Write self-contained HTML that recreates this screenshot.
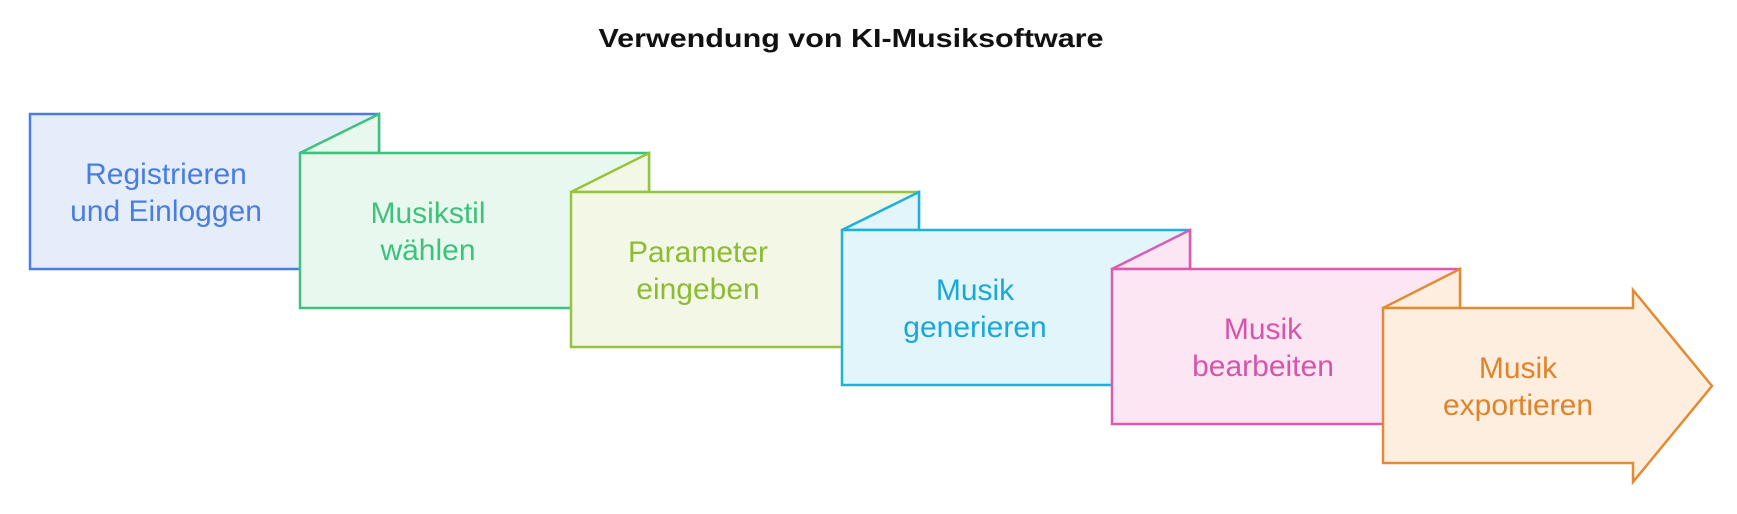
<!DOCTYPE html>
<html><head><meta charset="utf-8"><style>
html,body{margin:0;padding:0;background:#fff;}
svg{display:block;}
text{font-family:"Liberation Sans",sans-serif;}
</style></head><body>
<svg width="1737" height="514" viewBox="0 0 1737 514" xmlns="http://www.w3.org/2000/svg">
<text x="851" y="47" text-anchor="middle" font-size="26" font-weight="bold" fill="#111" textLength="505" lengthAdjust="spacingAndGlyphs">Verwendung von KI-Musiksoftware</text>
<g stroke-width="2.5" stroke-linejoin="miter">
<rect x="30" y="114" width="349" height="155" fill="#e5edfb" stroke="#4a7de0"/>
<polygon points="300,153 379,114 379,153" fill="#e9f8ef" stroke="#3cc27a"/>
<rect x="300" y="153" width="349" height="155" fill="#e9f8ef" stroke="#3cc27a"/>
<polygon points="571,192 649,153 649,192" fill="#f3f8e6" stroke="#97c43a"/>
<rect x="571" y="192" width="348" height="155" fill="#f3f8e6" stroke="#97c43a"/>
<polygon points="842,230 919,192 919,230" fill="#e2f5fb" stroke="#1fb0de"/>
<rect x="842" y="230" width="348" height="155" fill="#e2f5fb" stroke="#1fb0de"/>
<polygon points="1112,269 1190,230 1190,269" fill="#fce6f4" stroke="#dc5bb0"/>
<rect x="1112" y="269" width="348" height="155" fill="#fce6f4" stroke="#dc5bb0"/>
<polygon points="1383,308 1460,269 1460,308" fill="#fdeee0" stroke="#e38b33"/>
<polygon points="1383,308 1633,308 1633,290 1712,386 1633,482 1633,463 1383,463" fill="#fdeee0" stroke="#e38b33"/>
</g>
<g font-size="30" text-anchor="middle">
<text x="166" y="184" fill="#4a7de0">Registrieren</text>
<text x="166" y="221" fill="#4a7de0">und Einloggen</text>
<text x="428" y="223" fill="#3cc27a">Musikstil</text>
<text x="428" y="260" fill="#3cc27a">wählen</text>
<text x="698" y="262" fill="#8fbb33">Parameter</text>
<text x="698" y="299" fill="#8fbb33">eingeben</text>
<text x="975" y="300" fill="#1ca8d6">Musik</text>
<text x="975" y="337" fill="#1ca8d6">generieren</text>
<text x="1263" y="339" fill="#d655a8">Musik</text>
<text x="1263" y="376" fill="#d655a8">bearbeiten</text>
<text x="1518" y="378" fill="#e0842c">Musik</text>
<text x="1518" y="415" fill="#e0842c">exportieren</text>
</g>
</svg>
</body></html>
